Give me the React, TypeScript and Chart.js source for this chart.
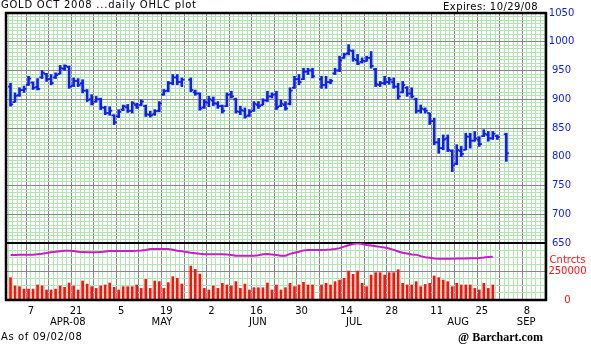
import React, { useEffect, useRef } from 'react';
import { Chart, registerables } from 'chart.js';

Chart.register(...registerables);

// ---------------- data ----------------
const tradeDates = [
  '04/01', '04/02', '04/03', '04/04',
  '04/07', '04/08', '04/09', '04/10', '04/11',
  '04/14', '04/15', '04/16', '04/17', '04/18',
  '04/21', '04/22', '04/23', '04/24', '04/25',
  '04/28', '04/29', '04/30', '05/01', '05/02',
  '05/05', '05/06', '05/07', '05/08', '05/09',
  '05/12', '05/13', '05/14', '05/15', '05/16',
  '05/19', '05/20', '05/21', '05/22', '05/23',
  '05/27', '05/28', '05/29', '05/30',
  '06/02', '06/03', '06/04', '06/05', '06/06',
  '06/09', '06/10', '06/11', '06/12', '06/13',
  '06/16', '06/17', '06/18', '06/19', '06/20',
  '06/23', '06/24', '06/25', '06/26', '06/27',
  '06/30', '07/01', '07/02', '07/03',
  '07/07', '07/08', '07/09', '07/10', '07/11',
  '07/14', '07/15', '07/16', '07/17', '07/18',
  '07/21', '07/22', '07/23', '07/24', '07/25',
  '07/28', '07/29', '07/30', '07/31', '08/01',
  '08/04', '08/05', '08/06', '08/07', '08/08',
  '08/11', '08/12', '08/13', '08/14', '08/15',
  '08/18', '08/19', '08/20', '08/21', '08/22',
  '08/25', '08/26', '08/27', '08/28', '08/29',
  '09/02',
];

const opens = [
  922, 895, 907, 916,
  925, 929, 921, 938, 944,
  935, 938, 944, 953, 956,
  924, 932, 928, 915, 900,
  896, 900, 885, 876, 872,
  870, 882, 886, 880, 890,
  890, 888, 873, 874, 880,
  908, 915, 928, 938, 930,
  934, 912, 910, 886,
  894, 898, 892, 888, 888,
  908, 900, 878, 880, 872,
  880, 890, 890, 898, 905,
  908, 888, 890, 892, 920,
  935, 935, 948, 950,
  935, 925, 930, 945, 950,
  972, 980, 984, 968, 965,
  966, 972, 952, 925, 928,
  930, 930, 922, 912, 920,
  910, 900, 880, 882, 876,
  862, 825, 815, 832, 810,
  788, 810, 812, 835, 828,
  830, 836, 838, 832, 836,
  839,
];
const highs = [
  928, 911, 920, 923,
  940, 930, 936, 950, 945,
  943, 946, 959, 960, 958,
  937, 936, 934, 917, 908,
  905, 902, 888, 887, 873,
  882, 890, 891, 896, 893,
  899, 890, 879, 882, 896,
  917, 931, 943, 943, 937,
  937, 916, 911, 899,
  905, 904, 896, 890, 911,
  914, 902, 888, 885, 882,
  896, 896, 901, 914, 911,
  914, 899, 896, 920, 940,
  943, 954, 954, 954,
  940, 940, 935, 954, 975,
  980, 995, 986, 978, 972,
  975, 983, 954, 931, 940,
  938, 937, 928, 931, 922,
  920, 902, 890, 885, 876,
  867, 832, 838, 838, 812,
  821, 818, 841, 841, 844,
  835, 847, 844, 844, 838,
  841,
];
const lows = [
  888, 895, 905, 912,
  924, 917, 916, 936, 931,
  925, 936, 944, 950, 919,
  922, 922, 911, 896, 890,
  895, 882, 873, 872, 856,
  868, 880, 877, 876, 884,
  889, 870, 869, 872, 878,
  907, 913, 925, 925, 922,
  913, 907, 881, 884,
  887, 889, 884, 876, 887,
  902, 876, 873, 867, 870,
  879, 884, 890, 896, 902,
  882, 887, 881, 890, 919,
  925, 934, 943, 937,
  919, 919, 927, 943, 948,
  971, 977, 966, 960, 963,
  966, 954, 922, 922, 925,
  926, 919, 900, 911, 905,
  902, 876, 876, 876, 856,
  821, 806, 812, 809, 774,
  786, 800, 812, 815, 827,
  818, 835, 827, 830, 830,
  792,
];
const closes = [
  891, 906, 916, 918,
  936, 920, 918, 946, 935,
  928, 942, 954, 958, 922,
  932, 925, 915, 899, 893,
  900, 886, 876, 880, 860,
  878, 888, 880, 893, 886,
  896, 874, 872, 879, 893,
  914, 928, 938, 930, 934,
  916, 910, 884, 895,
  900, 893, 888, 880, 908,
  905, 879, 881, 870, 878,
  892, 888, 898, 905, 908,
  886, 892, 884, 915, 935,
  930, 948, 950, 940,
  925, 930, 932, 950, 968,
  978, 985, 970, 962, 967,
  972, 958, 926, 928, 930,
  934, 922, 905, 925, 910,
  905, 880, 884, 880, 862,
  825, 815, 830, 812, 785,
  812, 805, 835, 828, 832,
  822, 840, 832, 840, 834,
  806,
];
const volumes = [
  196000, 123000, 117000, 96000,
  96000, 96000, 132000, 123000, 88000,
  88000, 96000, 123000, 111000, 149000,
  123000, 88000, 167000, 140000, 117000,
  102000, 123000, 132000, 149000, 111000,
  88000, 117000, 117000, 117000, 132000,
  102000, 181000, 102000, 167000, 161000,
  102000, 152000, 205000, 190000, 140000,
  298000, 269000, 228000, 102000,
  88000, 123000, 102000, 146000, 132000,
  123000, 161000, 102000, 140000, 88000,
  108000, 108000, 108000, 149000, 88000,
  132000, 88000, 108000, 146000, 117000,
  132000, 155000, 132000, 132000,
  132000, 146000, 132000, 161000, 175000,
  190000, 254000, 225000, 254000, 146000,
  117000, 219000, 240000, 240000, 219000,
  240000, 240000, 266000, 146000, 132000,
  132000, 161000, 117000, 137000, 146000,
  211000, 196000, 175000, 161000, 117000,
  146000, 132000, 132000, 132000, 102000,
  88000, 146000, 102000, 132000, null,
  null,
];
const openInterest = [
  395000, 395000, 396000, 396000,
  397000, 397000, 402000, 406000, 412000,
  418000, 424000, 428000, 432000, 433000,
  430000, 424000, 420000, 418000, 418000,
  419000, 420000, 425000, 430000, 430000,
  430000, 430000, 430000, 430000, 432000,
  435000, 439000, 447000, 447000, 447000,
  447000, 447000, 440000, 432000, 428000,
  415000, 410000, 405000, 401000,
  401000, 401000, 401000, 401000, 400000,
  395000, 389000, 389000, 389000, 389000,
  389000, 392000, 402000, 404000, 400000,
  395000, 389000, 389000, 405000, 415000,
  424000, 435000, 439000, 439000,
  439000, 440000, 442000, 448000, 455000,
  468000, 480000, 490000, 497000, 490000,
  482000, 478000, 472000, 466000, 460000,
  452000, 440000, 426000, 415000, 408000,
  400000, 398000, 385000, 375000, 371000,
  365000, 362000, 362000, 362000, 362000,
  365000, 365000, 365000, 366000, 367000,
  369000, 372000, 377000, 380000, null,
  null,
];

// axis labels
const dayTickDates = ['04/07', '04/21', '05/05', '05/19', '06/02', '06/16', '06/30', '07/14', '07/28', '08/11', '08/25', '09/08'];
const dayTickLabels = ['7', '21', '5', '19', '2', '16', '30', '14', '28', '11', '25', '8'];
const monthLabels = ['APR-08', 'MAY', 'JUN', 'JUL', 'AUG', 'SEP'];
const monthLabelDays = [13.7, 34.6, 55.9, 77.2, 100.3, 115.4];
const priceTickLabels = [650, 700, 750, 800, 850, 900, 950, 1000, 1050];

// ---------------- helpers / styles ----------------
const BLUE = '#1020e6';
const RED = '#ff1010';
const MAGENTA = '#c81ec8';
const DARK = '#858585';
const GREEN = '#b4e4b4';
const FONT = 'DejaVu Sans';

// weekday slot counted from Monday 03/31/2008 (weekends skipped)
function slotOf(md: string): number {
  const [m, d] = md.split('/').map(Number);
  const days = Math.round((Date.UTC(2008, m - 1, d) - Date.UTC(2008, 2, 31)) / 86400000);
  return Math.floor(days / 7) * 5 + (days % 7);
}

export default function App() {
  const ref = useRef<HTMLCanvasElement | null>(null);

  useEffect(() => {
    if (!ref.current) return;
    const xs = tradeDates.map(slotOf);
    const dayTickSlots = dayTickDates.map(slotOf);
    const X_MIN = 0;
    const X_MAX = 119.8;

    const frame = {
      id: 'frame',
      afterDraw(chart: any) {
        const { ctx, chartArea: a } = chart;
        ctx.save();
        ctx.strokeStyle = '#000';
        ctx.lineWidth = 2.5;
        ctx.strokeRect(a.left, a.top, a.right - a.left, a.bottom - a.top);
        ctx.restore();
      },
    };

    const chart = new Chart(ref.current, {
      type: 'bar',
      data: {
        datasets: [
          {
            type: 'bar',
            label: 'High-Low',
            data: xs.map((x, k) => ({ x, y: [lows[k], highs[k]] })) as any,
            backgroundColor: BLUE,
            barThickness: 2,
            grouped: false,
            yAxisID: 'y',
            xAxisID: 'x',
          } as any,
          {
            type: 'line',
            label: 'Open',
            data: xs.map((x, k) => ({ x, y: opens[k] })),
            showLine: false,
            pointStyle: 'dash',
            pointRotation: 180,
            pointRadius: 2.6,
            pointBorderColor: BLUE,
            pointBorderWidth: 1.8,
            yAxisID: 'y',
            xAxisID: 'x',
          } as any,
          {
            type: 'line',
            label: 'Close',
            data: xs.map((x, k) => ({ x, y: closes[k] })),
            showLine: false,
            pointStyle: 'dash',
            pointRotation: 0,
            pointRadius: 2.6,
            pointBorderColor: BLUE,
            pointBorderWidth: 1.8,
            yAxisID: 'y',
            xAxisID: 'x',
          } as any,
          {
            type: 'bar',
            label: 'Volume',
            data: xs.map((x, k) => ({ x, y: volumes[k] })) as any,
            backgroundColor: RED,
            barThickness: 2,
            grouped: false,
            yAxisID: 'yv',
            xAxisID: 'x',
          } as any,
          {
            type: 'line',
            label: 'Open interest',
            data: xs.map((x, k) => ({ x, y: openInterest[k] })),
            borderColor: MAGENTA,
            borderWidth: 2,
            pointRadius: 0,
            tension: 0,
            spanGaps: false,
            yAxisID: 'yv',
            xAxisID: 'x',
          } as any,
        ],
      },
      options: {
        animation: false,
        responsive: false,
        devicePixelRatio: 1,
        layout: { padding: { left: 6, top: 13, right: 0, bottom: 16 } },
        plugins: {
          legend: { display: false },
          tooltip: { enabled: false },
          title: { display: false },
        },
        font: { family: FONT, size: 10 },
        scales: {
          x: {
            type: 'linear',
            position: 'bottom',
            weight: 0,
            min: X_MIN,
            max: X_MAX,
            offset: false,
            afterBuildTicks: (s: any) => {
              const t = [];
              for (let v = 0; v <= 119; v++) t.push({ value: v });
              s.ticks = t;
            },
            afterFit: (s: any) => {
              s.height = 16;
            },
            ticks: {
              autoSkip: false,
              maxRotation: 0,
              minRotation: 0,
              padding: 5,
              labelOffset: 2.5,
              color: '#000',
              font: { family: FONT, size: 10 },
              callback: (v: any) => {
                const k = dayTickSlots.indexOf(Number(v));
                return k >= 0 ? dayTickLabels[k] : '';
              },
            },
            grid: {
              color: (c: any) => (c.tick && c.tick.value % 5 === 0 ? DARK : GREEN),
              lineWidth: 1,
              drawTicks: false,
            },
            border: { display: false },
          },
          xm: {
            type: 'linear',
            position: 'bottom',
            weight: 1,
            min: X_MIN,
            max: X_MAX,
            offset: false,
            afterBuildTicks: (s: any) => {
              s.ticks = monthLabelDays.map((v) => ({ value: v }));
            },
            afterFit: (s: any) => {
              s.height = 12;
            },
            ticks: {
              autoSkip: false,
              maxRotation: 0,
              minRotation: 0,
              padding: 0,
              color: '#000',
              font: { family: FONT, size: 10 },
              callback: (_v: any, i: number) => monthLabels[i],
            },
            grid: { display: false, drawTicks: false },
            border: { display: false },
          },
          y: {
            type: 'linear',
            position: 'right',
            stack: 'panels',
            stackWeight: 230,
            weight: 0,
            min: 650,
            max: 1050,
            afterBuildTicks: (s: any) => {
              const t = [];
              for (let v = 650; v <= 1050; v += 6.25) t.push({ value: v });
              s.ticks = t;
            },
            afterFit: (s: any) => {
              s.width = 45;
            },
            ticks: {
              autoSkip: false,
              crossAlign: 'center',
              padding: 2.8,
              color: BLUE,
              font: { family: FONT, size: 10 },
              callback: (v: any) => (priceTickLabels.includes(Number(v)) ? String(v) : ''),
            },
            grid: {
              color: (c: any) => {
                const v = c.tick ? c.tick.value : 0;
                if (v === 650) return '#000';
                return v % 50 === 0 ? DARK : GREEN;
              },
              lineWidth: (c: any) => (c.tick && c.tick.value === 650 ? 2 : 1),
              drawTicks: false,
            },
            border: { display: false },
          },
          yv: {
            type: 'linear',
            position: 'right',
            stack: 'panels',
            stackWeight: 57,
            weight: 1,
            min: 0,
            max: 500000,
            afterBuildTicks: (s: any) => {
              const t = [];
              for (let v = 0; v <= 500000; v += 62500) {
                t.push({ value: v });
                if (v === 312500) t.push({ value: 351000 });
              }
              s.ticks = t;
            },
            afterFit: (s: any) => {
              s.width = 45;
            },
            ticks: {
              autoSkip: false,
              crossAlign: 'center',
              padding: 2.4,
              color: RED,
              font: { family: FONT, size: 10 },
              callback: (v: any) => {
                const n = Number(v);
                if (n === 0) return '0';
                if (n === 250000) return '250000';
                if (n === 351000) return 'Cntrcts';
                return '';
              },
            },
            grid: {
              color: (c: any) => {
                const v = c.tick ? c.tick.value : 0;
                if (v === 351000 || v === 500000) return 'rgba(0,0,0,0)';
                return v === 250000 ? DARK : GREEN;
              },
              lineWidth: 1,
              drawTicks: false,
            },
            border: { display: false },
          },
        },
      } as any,
      plugins: [frame],
    });

    return () => chart.destroy();
  }, []);

  const base: React.CSSProperties = {
    position: 'absolute',
    fontFamily: FONT,
    fontSize: 10,
    lineHeight: '10px',
    color: '#000',
    whiteSpace: 'nowrap',
  };

  return (
    <div style={{ position: 'absolute', left: 0, top: 0, width: 591, height: 344, background: '#fff', overflow: 'hidden' }}>
      <canvas ref={ref} width={591} height={344} style={{ position: 'absolute', left: 0, top: 0, width: 591, height: 344 }} />
      <div style={{ ...base, left: 1, top: 0, letterSpacing: '0.75px' }}>GOLD OCT 2008 ...daily OHLC plot</div>
      <div style={{ ...base, right: 53, top: 2, letterSpacing: '0.4px' }}>Expires: 10/29/08</div>
      <div style={{ ...base, left: 1, top: 331.5, letterSpacing: '0.6px' }}>As of 09/02/08</div>
      <div
        style={{
          ...base,
          left: 458,
          top: 331,
          fontFamily: 'Liberation Serif',
          fontWeight: 'bold',
          fontSize: 12,
          lineHeight: '12px',
        }}
      >
        @ Barchart.com
      </div>
    </div>
  );
}
